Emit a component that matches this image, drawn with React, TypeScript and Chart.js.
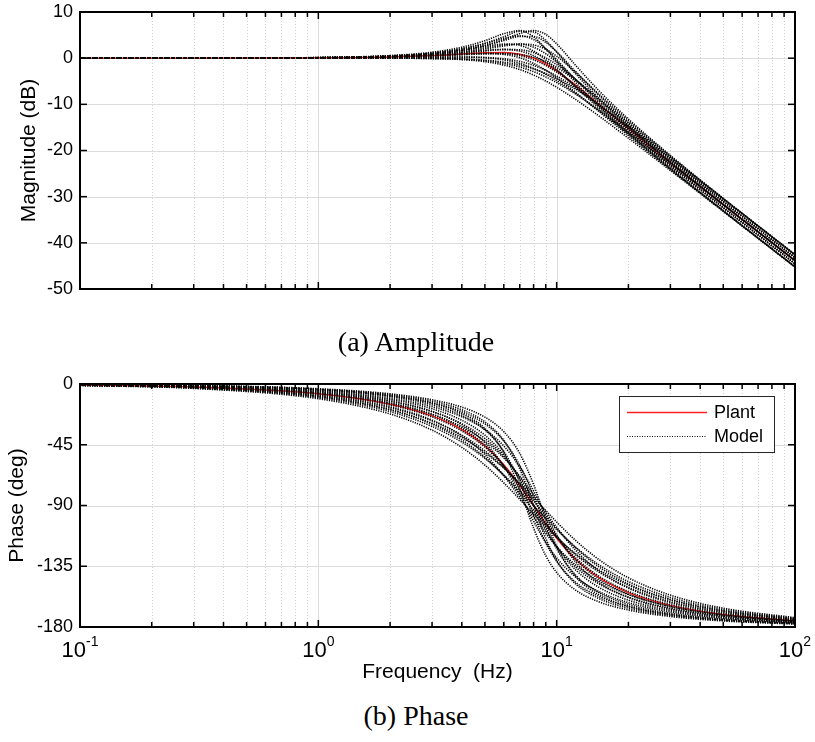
import React, { useEffect, useRef } from "react";
import { Chart, registerables } from "chart.js";

Chart.register(...registerables);

// Frequency grid (Hz) at which curve values were read
const FREQ = [0.1, 0.3, 1, 2, 3, 4, 5, 6, 7, 8, 9, 10, 12, 15, 20, 30, 50, 100];

// Plant (red)
const PLANT_MAG = [0, 0, 0.07, 0.26, 0.56, 0.9, 1.18, 1.23, 0.86, 0, -1.26, -2.74, -5.81, -9.93, -15.29, -22.66, -31.73, -43.85];
const PLANT_PHASE = [-0.72, -2.15, -7.24, -14.93, -23.58, -33.69, -45.73, -59.74, -75.0, -90, -103.28, -114.23, -129.81, -143.3, -154.54, -163.98, -170.68, -175.4];

// Model family (black dotted)
const MODEL_MAG = [
  [0, 0.01, 0.14, 0.56, 1.29, 2.37, 3.78, 5.3, 5.97, 4.63, 2.01, -0.71, -5.27, -10.33, -16.2, -23.85, -33.02, -45.19],
  [0, 0.01, 0.11, 0.45, 1.01, 1.74, 2.53, 3.04, 2.77, 1.53, -0.35, -2.4, -6.21, -10.81, -16.43, -23.94, -33.05, -45.2],
  [0, 0.01, 0.07, 0.28, 0.58, 0.88, 1.03, 0.82, 0.09, -1.12, -2.62, -4.25, -7.4, -11.5, -16.78, -24.08, -33.1, -45.21],
  [0, 0, 0, -0.01, -0.09, -0.31, -0.76, -1.48, -2.47, -3.65, -4.95, -6.3, -8.93, -12.48, -17.33, -24.32, -33.19, -45.23],
  [0, 0.01, 0.12, 0.48, 1.1, 2.01, 3.22, 4.64, 5.82, 5.68, 3.84, 1.31, -3.37, -8.62, -14.66, -22.42, -31.64, -43.83],
  [0, 0.01, 0.1, 0.39, 0.86, 1.51, 2.24, 2.87, 3.04, 2.38, 0.96, -0.86, -4.57, -9.22, -14.94, -22.52, -31.68, -43.84],
  [0, 0.01, 0.06, 0.24, 0.5, 0.79, 1.0, 0.97, 0.54, -0.34, -1.58, -3.02, -6.02, -10.06, -15.36, -22.69, -31.73, -43.85],
  [0, 0, 0, -0.01, -0.06, -0.22, -0.56, -1.12, -1.92, -2.92, -4.07, -5.29, -7.76, -11.21, -16.0, -22.97, -31.83, -43.88],
  [0, 0.01, 0.1, 0.41, 0.95, 1.72, 2.76, 4.03, 5.33, 5.98, 5.15, 3.1, -1.53, -6.98, -13.2, -21.07, -30.36, -42.56],
  [0, 0.01, 0.08, 0.33, 0.75, 1.31, 1.98, 2.64, 3.04, 2.86, 1.93, 0.43, -3.06, -7.73, -13.53, -21.2, -30.4, -42.57],
  [0, 0, 0.05, 0.21, 0.44, 0.72, 0.95, 1.02, 0.81, 0.2, -0.77, -2.0, -4.78, -8.73, -14.03, -21.4, -30.46, -42.59],
  [0, 0, 0, 0, -0.04, -0.16, -0.42, -0.86, -1.5, -2.34, -3.34, -4.43, -6.73, -10.06, -14.78, -21.72, -30.58, -42.62],
  [0, 0.01, 0.12, 0.49, 1.11, 2.01, 3.13, 4.28, 4.85, 4.04, 2.04, -0.33, -4.65, -9.63, -15.5, -23.15, -32.33, -44.5],
  [0, 0.01, 0.09, 0.34, 0.75, 1.24, 1.7, 1.9, 1.55, 0.55, -0.94, -2.64, -6.03, -10.37, -15.85, -23.29, -32.38, -44.51],
  [0, 0, 0.03, 0.12, 0.21, 0.23, 0.08, -0.37, -1.14, -2.22, -3.49, -4.86, -7.62, -11.35, -16.37, -23.51, -32.45, -44.53],
  [0, 0.01, 0.1, 0.42, 0.95, 1.72, 2.7, 3.81, 4.69, 4.69, 3.43, 1.39, -2.88, -8.0, -14.01, -21.77, -31.0, -43.19],
  [0, 0.01, 0.08, 0.3, 0.65, 1.09, 1.55, 1.86, 1.81, 1.21, 0.07, -1.4, -4.6, -8.91, -14.44, -21.94, -31.06, -43.2],
  [0, 0, 0.03, 0.1, 0.19, 0.24, 0.16, -0.13, -0.71, -1.56, -2.65, -3.87, -6.44, -10.07, -15.06, -22.19, -31.14, -43.22],
];

const MODEL_PHASE = [
  [-0.4, -1.21, -4.09, -8.62, -14.16, -21.66, -32.89, -50.9, -77.93, -106.71, -127.15, -139.62, -152.64, -161.27, -167.43, -172.22, -175.5, -177.78],
  [-0.59, -1.77, -5.97, -12.49, -20.24, -30.13, -43.38, -60.93, -81.68, -101.61, -117.4, -128.82, -142.9, -153.64, -161.95, -168.71, -173.44, -176.76],
  [-0.81, -2.42, -8.15, -16.87, -26.77, -38.46, -52.28, -67.89, -83.9, -98.53, -110.75, -120.45, -134.02, -145.86, -155.97, -164.72, -171.06, -175.57],
  [-1.08, -3.26, -10.91, -22.21, -34.18, -46.92, -60.12, -73.21, -85.46, -96.36, -105.72, -113.59, -125.67, -137.61, -149.03, -159.81, -168.04, -174.05],
  [-0.37, -1.12, -3.78, -7.89, -12.78, -19.12, -28.07, -41.71, -62.75, -90, -114.42, -130.87, -148.03, -158.81, -166.09, -171.51, -175.12, -177.6],
  [-0.54, -1.64, -5.51, -11.46, -18.35, -26.87, -37.94, -52.49, -70.59, -90, -107.26, -120.63, -137.64, -150.47, -160.11, -167.69, -172.89, -176.5],
  [-0.74, -2.24, -7.52, -15.5, -24.41, -34.73, -46.85, -60.71, -75.56, -90, -102.79, -113.4, -128.71, -142.22, -153.65, -163.38, -170.31, -175.21],
  [-1.0, -3.01, -10.08, -20.47, -31.42, -43.03, -55.15, -67.38, -79.17, -90, -99.57, -107.82, -120.76, -133.78, -146.31, -158.1, -167.05, -173.57],
  [-0.35, -1.04, -3.51, -7.29, -11.67, -17.15, -24.55, -35.25, -51.43, -74.44, -99.92, -120.21, -142.54, -156.05, -164.66, -170.78, -174.73, -177.42],
  [-0.51, -1.52, -5.12, -10.58, -16.8, -24.28, -33.72, -45.93, -61.38, -79.22, -96.82, -111.72, -131.77, -147.0, -158.15, -166.65, -172.33, -176.23],
  [-0.69, -2.08, -6.99, -14.34, -22.44, -31.68, -42.41, -54.72, -68.26, -82.08, -95.0, -106.23, -123.12, -138.39, -151.25, -162.0, -169.56, -174.85],
  [-0.93, -2.8, -9.37, -19.0, -29.08, -39.72, -50.88, -62.28, -73.5, -84.1, -93.72, -102.2, -115.87, -129.91, -143.55, -156.38, -166.06, -173.08],
  [-0.45, -1.34, -4.53, -9.49, -15.41, -23.12, -33.97, -49.97, -72.35, -97.26, -117.57, -131.38, -146.8, -157.31, -164.83, -170.64, -174.59, -177.34],
  [-0.67, -2.01, -6.78, -14.07, -22.46, -32.63, -45.3, -60.75, -78.02, -94.86, -109.19, -120.43, -135.53, -147.9, -157.86, -166.11, -171.92, -176.01],
  [-0.92, -2.77, -9.3, -19.06, -29.67, -41.42, -54.32, -67.87, -81.25, -93.53, -104.18, -113.09, -126.48, -139.17, -150.73, -161.18, -168.93, -174.51],
  [-0.41, -1.24, -4.2, -8.73, -14.01, -20.64, -29.57, -42.26, -60.29, -83.0, -105.12, -122.0, -141.49, -154.43, -163.26, -169.81, -174.15, -177.13],
  [-0.62, -1.87, -6.28, -12.97, -20.51, -29.46, -40.4, -53.73, -69.17, -85.32, -100.21, -112.61, -129.96, -144.33, -155.72, -164.91, -171.27, -175.7],
  [-0.86, -2.57, -8.62, -17.6, -27.27, -37.9, -49.54, -61.96, -74.57, -86.6, -97.45, -106.82, -121.29, -135.32, -148.13, -159.62, -168.05, -174.08],
];

// Axis ticks / labels
const DECADES = [0.1, 1, 10, 100];
const MINOR_STEPS = [2, 3, 4, 5, 6, 7, 8, 9];
const X_TICKS = DECADES.flatMap((d, i) =>
  i < DECADES.length - 1 ? [d, ...MINOR_STEPS.map((k) => d * k)] : [d]
);
const MAG_TICKS = [-50, -40, -30, -20, -10, 0, 10];
const PHASE_TICKS = [-180, -135, -90, -45, 0];
const LEGEND_LABELS = ["Plant", "Model"];
const X_TITLE = "Frequency  (Hz)";

const FONT = '"Liberation Sans", Arial, Helvetica, sans-serif';
const SERIF = '"Liberation Serif", "Times New Roman", Times, serif';
const MODEL_DASH = [1.2, 1.2];

function series(vals: number[]) {
  return FREQ.map((f, i) => ({ x: f, y: vals[i] }));
}

const bodePlugin = {
  id: "bode",
  beforeDatasetsDraw(chart: any) {
    const { ctx, chartArea: a } = chart;
    const xs = chart.scales.x;
    const ys = chart.scales.y;
    ctx.save();
    ctx.lineWidth = 1;
    X_TICKS.forEach((v) => {
      const px = Math.round(xs.getPixelForValue(v)) + 0.5;
      const major = DECADES.includes(v);
      ctx.strokeStyle = major ? "#dcdcdc" : "#cfcfcf";
      ctx.setLineDash(major ? [] : [1, 2]);
      ctx.beginPath();
      ctx.moveTo(px, a.top);
      ctx.lineTo(px, a.bottom);
      ctx.stroke();
    });
    ctx.setLineDash([]);
    ctx.strokeStyle = "#dcdcdc";
    ys.ticks.forEach((t: any) => {
      const py = Math.round(ys.getPixelForValue(t.value)) + 0.5;
      ctx.beginPath();
      ctx.moveTo(a.left, py);
      ctx.lineTo(a.right, py);
      ctx.stroke();
    });
    ctx.restore();
  },
  afterDraw(chart: any, _args: any, opts: any) {
    const { ctx, chartArea: a } = chart;
    const xs = chart.scales.x;
    const ys = chart.scales.y;
    const line = (x1: number, y1: number, x2: number, y2: number) => {
      ctx.beginPath();
      ctx.moveTo(x1, y1);
      ctx.lineTo(x2, y2);
      ctx.stroke();
    };
    ctx.save();
    ctx.strokeStyle = "#000";
    ctx.lineWidth = 1.5;
    X_TICKS.forEach((v) => {
      const px = xs.getPixelForValue(v);
      const len = DECADES.includes(v) ? 7 : 5;
      line(px, a.top, px, a.top + len);
      line(px, a.bottom, px, a.bottom - len);
    });
    ys.ticks.forEach((t: any) => {
      const py = ys.getPixelForValue(t.value);
      line(a.left, py, a.left + 7, py);
      line(a.right, py, a.right - 7, py);
    });
    ctx.lineWidth = 2;
    ctx.strokeRect(a.left, a.top, a.right - a.left, a.bottom - a.top);

    if (opts && opts.xLabels) {
      ctx.fillStyle = "#000";
      ctx.textBaseline = "alphabetic";
      ctx.textAlign = "left";
      DECADES.forEach((d) => {
        const px = xs.getPixelForValue(d);
        const base = "10";
        const sup = String(Math.round(Math.log10(d)));
        ctx.font = `22px ${FONT}`;
        const w1 = ctx.measureText(base).width;
        ctx.font = `14px ${FONT}`;
        const w2 = ctx.measureText(sup).width;
        const x0 = px - (w1 + w2) / 2;
        ctx.font = `22px ${FONT}`;
        ctx.fillText(base, x0, a.bottom + 30);
        ctx.font = `14px ${FONT}`;
        ctx.fillText(sup, x0 + w1, a.bottom + 19);
      });
      ctx.font = `21px ${FONT}`;
      ctx.textAlign = "center";
      ctx.fillText(X_TITLE, (a.left + a.right) / 2, a.bottom + 51);
    }

    if (opts && opts.legend) {
      const bx = a.right - 176;
      const by = a.top + 12;
      const bw = 155;
      const bh = 56;
      ctx.fillStyle = "#fff";
      ctx.fillRect(bx, by, bw, bh);
      ctx.lineWidth = 1;
      ctx.strokeStyle = "#262626";
      ctx.strokeRect(bx + 0.5, by + 0.5, bw, bh);
      const rows = [
        { y: by + 16, color: "#ff2020", dash: [] as number[], w: 1.5 },
        { y: by + 40, color: "#000", dash: [1, 1.5], w: 1 },
      ];
      rows.forEach((r, i) => {
        ctx.strokeStyle = r.color;
        ctx.lineWidth = r.w;
        ctx.setLineDash(r.dash);
        line(bx + 8, r.y + 0.5, bx + 88, r.y + 0.5);
        ctx.setLineDash([]);
        ctx.fillStyle = "#000";
        ctx.font = `18px ${FONT}`;
        ctx.textAlign = "left";
        ctx.textBaseline = "middle";
        ctx.fillText(LEGEND_LABELS[i], bx + 95, r.y + 1);
      });
    }
    ctx.restore();
  },
};

function buildConfig(magOrPhase: "mag" | "phase"): any {
  const isMag = magOrPhase === "mag";
  const plant = isMag ? PLANT_MAG : PLANT_PHASE;
  const models = isMag ? MODEL_MAG : MODEL_PHASE;
  const yTicks = isMag ? MAG_TICKS : PHASE_TICKS;
  // Models first (drawn on top), plant last (drawn underneath)
  const datasets = [
    ...models.map((m) => ({
      label: LEGEND_LABELS[1],
      data: series(m),
      borderColor: "#000",
      borderWidth: 1.6,
      borderDash: MODEL_DASH,
      pointRadius: 0,
      cubicInterpolationMode: "monotone",
    })),
    {
      label: LEGEND_LABELS[0],
      data: series(plant),
      borderColor: "#ff1f1f",
      borderWidth: 1.5,
      pointRadius: 0,
      cubicInterpolationMode: "monotone",
    },
  ];
  return {
    type: "line",
    data: { datasets },
    plugins: [bodePlugin],
    options: {
      responsive: false,
      animation: false,
      events: [],
      layout: { padding: { top: isMag ? 12 : 24, right: 20, bottom: 0, left: 0 } },
      plugins: {
        legend: { display: false },
        tooltip: { enabled: false },
        bode: { xLabels: !isMag, legend: !isMag },
      },
      scales: {
        x: {
          type: "logarithmic",
          min: DECADES[0],
          max: DECADES[DECADES.length - 1],
          afterBuildTicks: (s: any) => {
            s.ticks = X_TICKS.map((v) => ({ value: v }));
          },
          ticks: { display: false },
          grid: { display: false },
          border: { display: false },
          afterFit: (s: any) => {
            s.height = isMag ? 41 : 63;
            s.paddingLeft = 0;
            s.paddingRight = 0;
          },
        },
        y: {
          type: "linear",
          min: yTicks[0],
          max: yTicks[yTicks.length - 1],
          afterBuildTicks: (s: any) => {
            s.ticks = yTicks.map((v) => ({ value: v }));
          },
          ticks: {
            font: { size: 18, family: FONT },
            color: "#000",
            padding: 7,
            callback: (v: any) => String(v),
          },
          grid: { display: false, drawTicks: false },
          border: { display: false },
          title: {
            display: true,
            text: isMag ? "Magnitude (dB)" : "Phase (deg)",
            font: { size: 21, family: FONT },
            color: "#000",
            padding: { top: isMag ? 17 : 5, bottom: 0 },
          },
          afterFit: (s: any) => {
            s.width = 80;
            s.paddingTop = 0;
            s.paddingBottom = 0;
          },
        },
      },
    },
  };
}

export default function App() {
  const magRef = useRef<HTMLCanvasElement | null>(null);
  const phaseRef = useRef<HTMLCanvasElement | null>(null);

  useEffect(() => {
    const charts: Chart[] = [];
    if (magRef.current) charts.push(new Chart(magRef.current, buildConfig("mag")));
    if (phaseRef.current) charts.push(new Chart(phaseRef.current, buildConfig("phase")));
    return () => charts.forEach((c) => c.destroy());
  }, []);

  const caption: React.CSSProperties = {
    position: "absolute",
    left: 0,
    width: 832,
    textAlign: "center",
    font: `28px ${SERIF}`,
    lineHeight: "28px",
    color: "#000",
    whiteSpace: "nowrap",
  };

  return (
    <div style={{ position: "absolute", left: 0, top: 0, width: 815, height: 742, background: "#fff", overflow: "hidden" }}>
      <canvas ref={magRef} width={815} height={330} style={{ position: "absolute", left: 0, top: 0 }} />
      <canvas ref={phaseRef} width={815} height={330} style={{ position: "absolute", left: 0, top: 360 }} />
      <div style={{ ...caption, top: 328 }}>(a) Amplitude</div>
      <div style={{ ...caption, top: 702 }}>(b) Phase</div>
    </div>
  );
}
